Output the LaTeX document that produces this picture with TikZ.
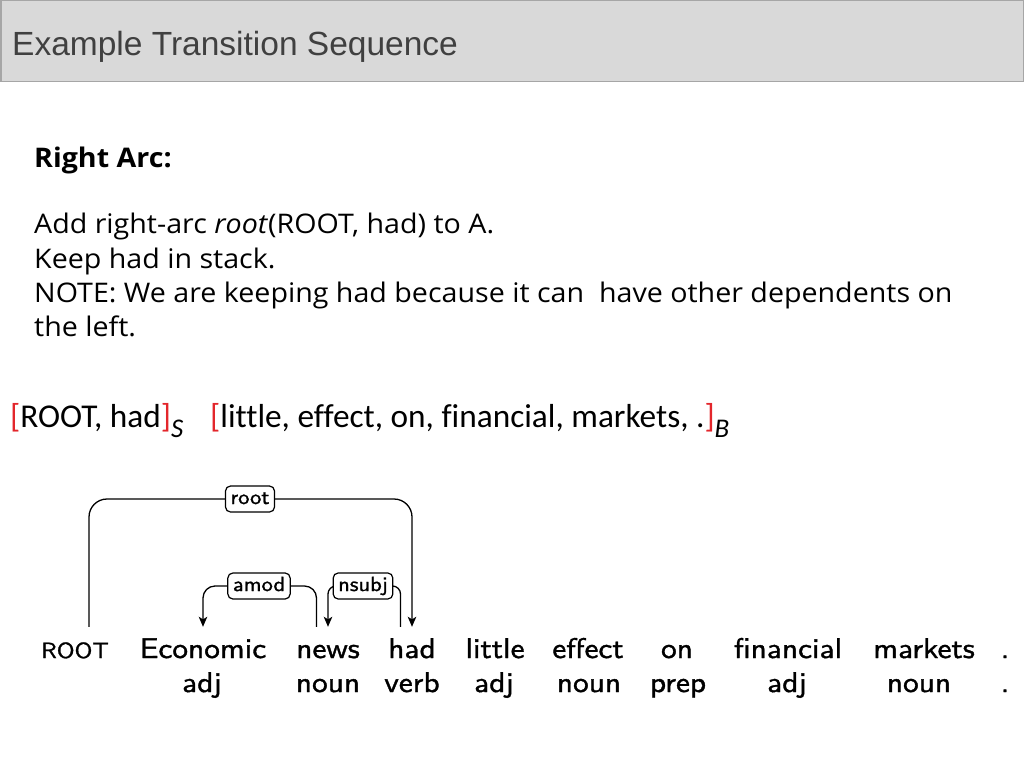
\documentclass[tikz,border=0pt]{standalone}
\usepackage{fontspec}
\setmainfont[FakeStretch=1.06]{Open Sans}
\setsansfont[FakeStretch=1.1, FakeBold=1.3]{lmsans10-regular.otf}
\newfontfamily\titlefont{Liberation Sans}
\newfontfamily\stackfont[Ligatures=NoCommon]{Carlito}
\usepackage{xcolor}
\usetikzlibrary{positioning}
\usetikzlibrary{arrows.meta}

\definecolor{barfill}{HTML}{D9D9D9}
\definecolor{barline}{HTML}{A6A6A6}
\definecolor{titletext}{HTML}{404040}
\definecolor{bracketred}{HTML}{E3262B}

\newcommand{\pxsize}[1]{\fontsize{#1}{#1}\selectfont}
\newcommand{\stacksub}[1]{\raisebox{-10pt}{\pxsize{27}\itshape #1}}

\begin{document}
\begin{tikzpicture}[x=1pt, y=-1pt,
        w/.style={anchor=base, inner xsep=2pt, inner ysep=9pt, text height=22pt, text depth=6pt, font=\sffamily\pxsize{28.5}},
        tg/.style={anchor=base, inner sep=2pt, font=\sffamily\pxsize{28.5}},
        lbl/.style={draw, rounded corners=5pt, fill=white, line width=1.2pt, inner xsep=5pt, inner ysep=4pt, text height=14pt, text depth=4pt, font=\sffamily\pxsize{20.5}},
        dep/.style={-{Stealth[length=10pt,width=8.5pt,inset=2.5pt]}, line width=1.3pt}]
        \useasboundingbox (0,0) rectangle (1024,768);

        % title bar
        \draw[barline, fill=barfill, line width=1.5pt] (0.75,0.75) rectangle (1023.25,81.25);
        \node[anchor=base west, inner sep=0pt, text=titletext, font=\titlefont\pxsize{33.5}] (title) at (12,56) {Example Transition Sequence};

        % explanation
        \node[anchor=base west, inner sep=0pt, font=\bfseries\pxsize{27}] (head) at (34,167) {Right Arc:};
        \node[anchor=base west, inner sep=0pt, font=\pxsize{27}] (l1) at (34,233) {Add right-arc \textit{root}(ROOT, had) to A.};
        \node[anchor=base west, inner sep=0pt, font=\pxsize{27}] (l2) at (34,268) {Keep had in stack.};
        \node[anchor=base west, inner sep=0pt, font=\pxsize{27}] (l3) at (34,302) {NOTE: We are keeping had because it can~ have other dependents on};
        \node[anchor=base west, inner sep=0pt, font=\pxsize{27}] (l4) at (34,336) {the left.};

        % stack and buffer
        \node[anchor=base west, inner sep=0pt, font=\stackfont\pxsize{33.3}] (stack) at (10,427) {\textcolor{bracketred}{[}ROOT, had\textcolor{bracketred}{]}\stacksub{S}};
        \node[anchor=base west, inner sep=0pt, font=\stackfont\pxsize{33.3}] (buffer) at (210,427) {\textcolor{bracketred}{[}little, effect, on, financial, markets, .\textcolor{bracketred}{]}\stacksub{B}};

        % sentence
        \node[w, font=\sffamily\pxsize{22}] (root) at (75,658) {ROOT};
        \node[w] (econ) at (203,658) {Economic};
        \node[w] (news) at (328,658) {news};
        \node[w] (had) at (412,658) {had};
        \node[w] (little) at (495,658) {little};
        \node[w] (effect) at (588,658) {effect};
        \node[w] (on) at (677,658) {on};
        \node[w] (financial) at (788,658) {financial};
        \node[w] (markets) at (924,658) {markets};
        \node[w] (dot) at (1005,658) {.};

        \node[tg] (t-econ) at (202,692) {adj};
        \node[tg] (t-news) at (328,692) {noun};
        \node[tg] (t-had) at (412,692) {verb};
        \node[tg] (t-little) at (494,692) {adj};
        \node[tg] (t-effect) at (589,692) {noun};
        \node[tg] (t-on) at (678,692) {prep};
        \node[tg] (t-financial) at (787,692) {adj};
        \node[tg] (t-markets) at (919,692) {noun};
        \node[tg] (t-dot) at (1005,692) {.};

        % arcs
        \coordinate (c-root) at (250,499);
        \coordinate (c-amod) at (259,586);
        \coordinate (c-nsubj) at (363,586);
        \draw[dep, rounded corners=18pt] ([xshift=14pt]root.north) |- (c-root) -| (had.north);
        \draw[dep, rounded corners=12pt] ([xshift=-11.5pt]news.north) |- (c-amod) -| (econ.north);
        \draw[dep, rounded corners=8pt] ([xshift=-11.5pt]had.north) |- (c-nsubj) -| (news.north);
        \node[lbl] (l-root) at (c-root) {root};
        \node[lbl] (l-amod) at (c-amod) {amod};
        \node[lbl] (l-nsubj) at (c-nsubj) {nsubj};
    \end{tikzpicture}
\end{document}
